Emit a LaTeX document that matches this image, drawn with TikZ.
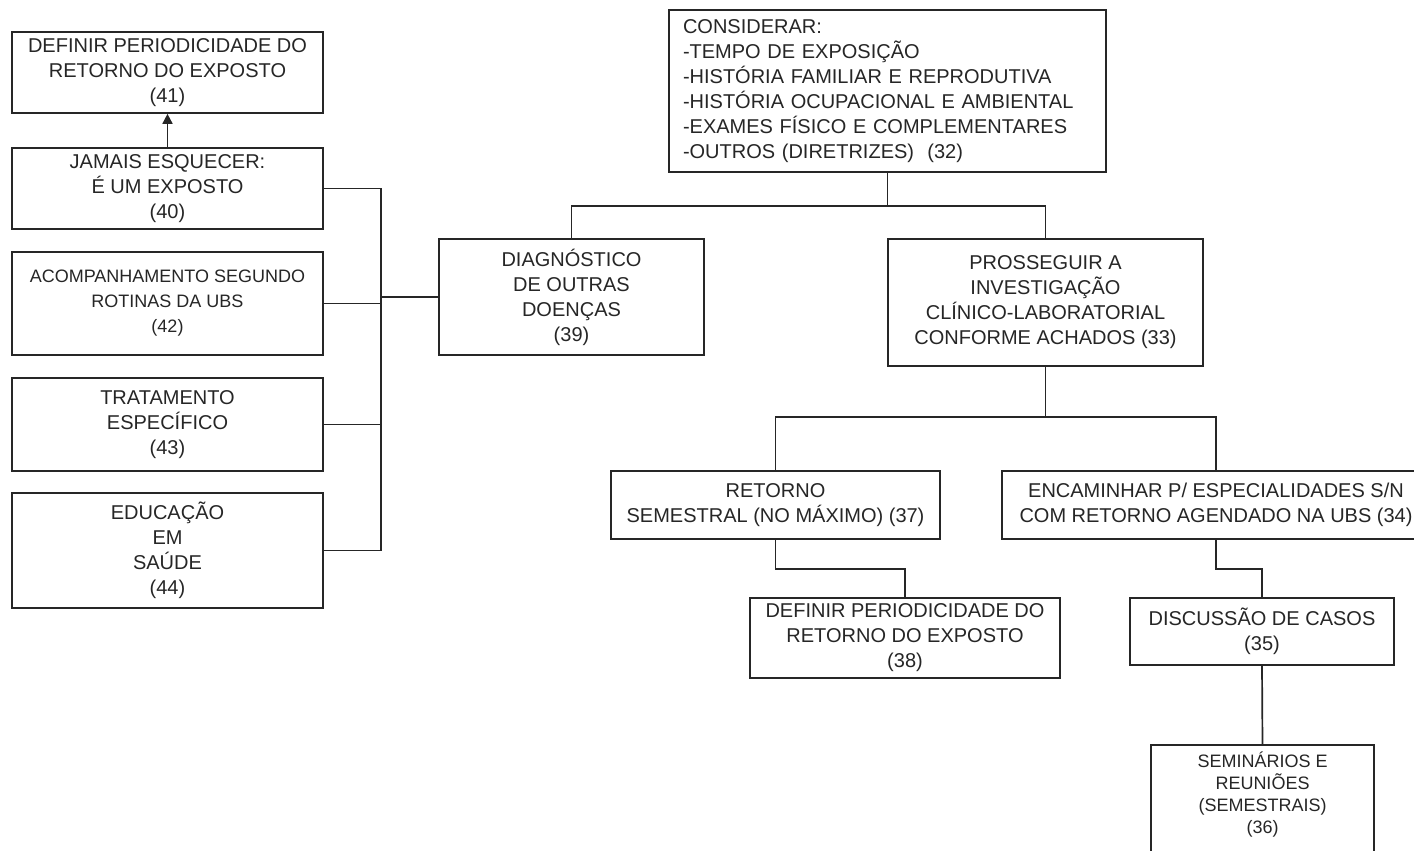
\documentclass[tikz,border=0pt]{standalone}
\usepackage{fontspec}
\setmainfont{Liberation Sans}
\usetikzlibrary{arrows.meta}
\definecolor{ink}{HTML}{262626}
\begin{document}
\begin{tikzpicture}[x=1pt,y=-1pt,
  box/.style={draw=ink, line width=1.7pt, text=ink, inner sep=0pt, align=center,
    font=\fontsize{20}{25}\selectfont},
  conn/.style={draw=ink, line width=1.7pt}]
\useasboundingbox (0,0) rectangle (1414,851);
\clip (0,0) rectangle (1414,851);
\fill[white] (0,0) rectangle (1414,851);

% left column
\node[box, minimum width=311pt, minimum height=81pt] (n41) at (167.5,72.5)
  {DEFINIR PERIODICIDADE DO\\RETORNO DO EXPOSTO\\(41)};
\node[box, minimum width=311pt, minimum height=81pt] (n40) at (167.5,188.5)
  {JAMAIS ESQUECER:\\É UM EXPOSTO\\(40)};
\node[box, minimum width=311pt, minimum height=103pt, font=\fontsize{18}{25}\selectfont] (n42) at (167.5,303.5)
  {ACOMPANHAMENTO SEGUNDO\\ROTINAS DA UBS\\(42)};
\node[box, minimum width=311pt, minimum height=93pt] (n43) at (167.5,424.5)
  {TRATAMENTO\\ESPECÍFICO\\(43)};
\node[box, minimum width=311pt, minimum height=115pt] (n44) at (167.5,550.5)
  {EDUCAÇÃO\\EM\\SAÚDE\\(44)};

\node[box, minimum width=265pt, minimum height=116pt] (n39) at (571.5,297)
  {DIAGNÓSTICO\\DE OUTRAS\\DOENÇAS\\(39)};

% top box
\node[box, minimum width=437pt, minimum height=162pt, align=left, inner xsep=14pt,
  text width=409pt] (n32) at (887.5,91)
  {CONSIDERAR:\\-TEMPO DE EXPOSIÇÃO\\-HISTÓRIA FAMILIAR E REPRODUTIVA\\-HISTÓRIA OCUPACIONAL E AMBIENTAL\\-EXAMES FÍSICO E COMPLEMENTARES\\-OUTROS (DIRETRIZES)\ \ (32)};

\node[box, minimum width=315pt, minimum height=127pt] (n33) at (1045.5,302.5)
  {PROSSEGUIR A\\INVESTIGAÇÃO\\CLÍNICO-LABORATORIAL\\CONFORME ACHADOS (33)};

\node[box, minimum width=329pt, minimum height=68pt] (n37) at (775.5,505)
  {RETORNO\\SEMESTRAL (NO MÁXIMO) (37)};
\node[box, minimum width=428pt, minimum height=68pt] (n34) at (1216,505)
  {ENCAMINHAR P/ ESPECIALIDADES S/N\\COM RETORNO AGENDADO NA UBS (34)};

\node[box, minimum width=310pt, minimum height=80pt] (n38) at (905,638)
  {DEFINIR PERIODICIDADE DO\\RETORNO DO EXPOSTO\\(38)};
\node[box, minimum width=264pt, minimum height=67pt] (n35) at (1262,631.5)
  {DISCUSSÃO DE CASOS\\(35)};

\node[box, draw=none, minimum width=221pt, minimum height=97pt,
  font=\fontsize{18}{22}\selectfont] (n36) at (1262.5,794.5)
  {SEMINÁRIOS E\\REUNIÕES\\(SEMESTRAIS)\\(36)};
\draw[conn] ([yshift=-30pt]n36.south west) -- (n36.north west) -- (n36.north east) -- ([yshift=-30pt]n36.south east);

% connectors
\draw[conn, -{Triangle[length=10pt,width=10pt]}] (n40.north) -- (n41.south);

\coordinate (bus) at (381,297);
\draw[conn] (n40.east) -| (bus |- n44.east) -- (n44.east);
\draw[conn] (n42.east) -- (n42.east -| bus);
\draw[conn] (n43.east) -- (n43.east -| bus);
\draw[conn] (n39.west) -- (bus);

\coordinate (j1) at (887.5,206);
\draw[conn] (n32.south) -- (j1);
\draw[conn] (j1) -| (n39.north);
\draw[conn] (j1) -| (n33.north);

\coordinate (j2) at (1045.5,417);
\draw[conn] (n33.south) -- (j2);
\draw[conn] (j2) -| (n37.north);
\draw[conn] (j2) -| (n34.north);

\draw[conn] (n37.south) -- ++(0,29) -| (n38.north);
\draw[conn] (n34.south) -- ++(0,29) -| (n35.north);
\draw[conn] (n35.south) -- (n36.north);
\end{tikzpicture}
\end{document}
